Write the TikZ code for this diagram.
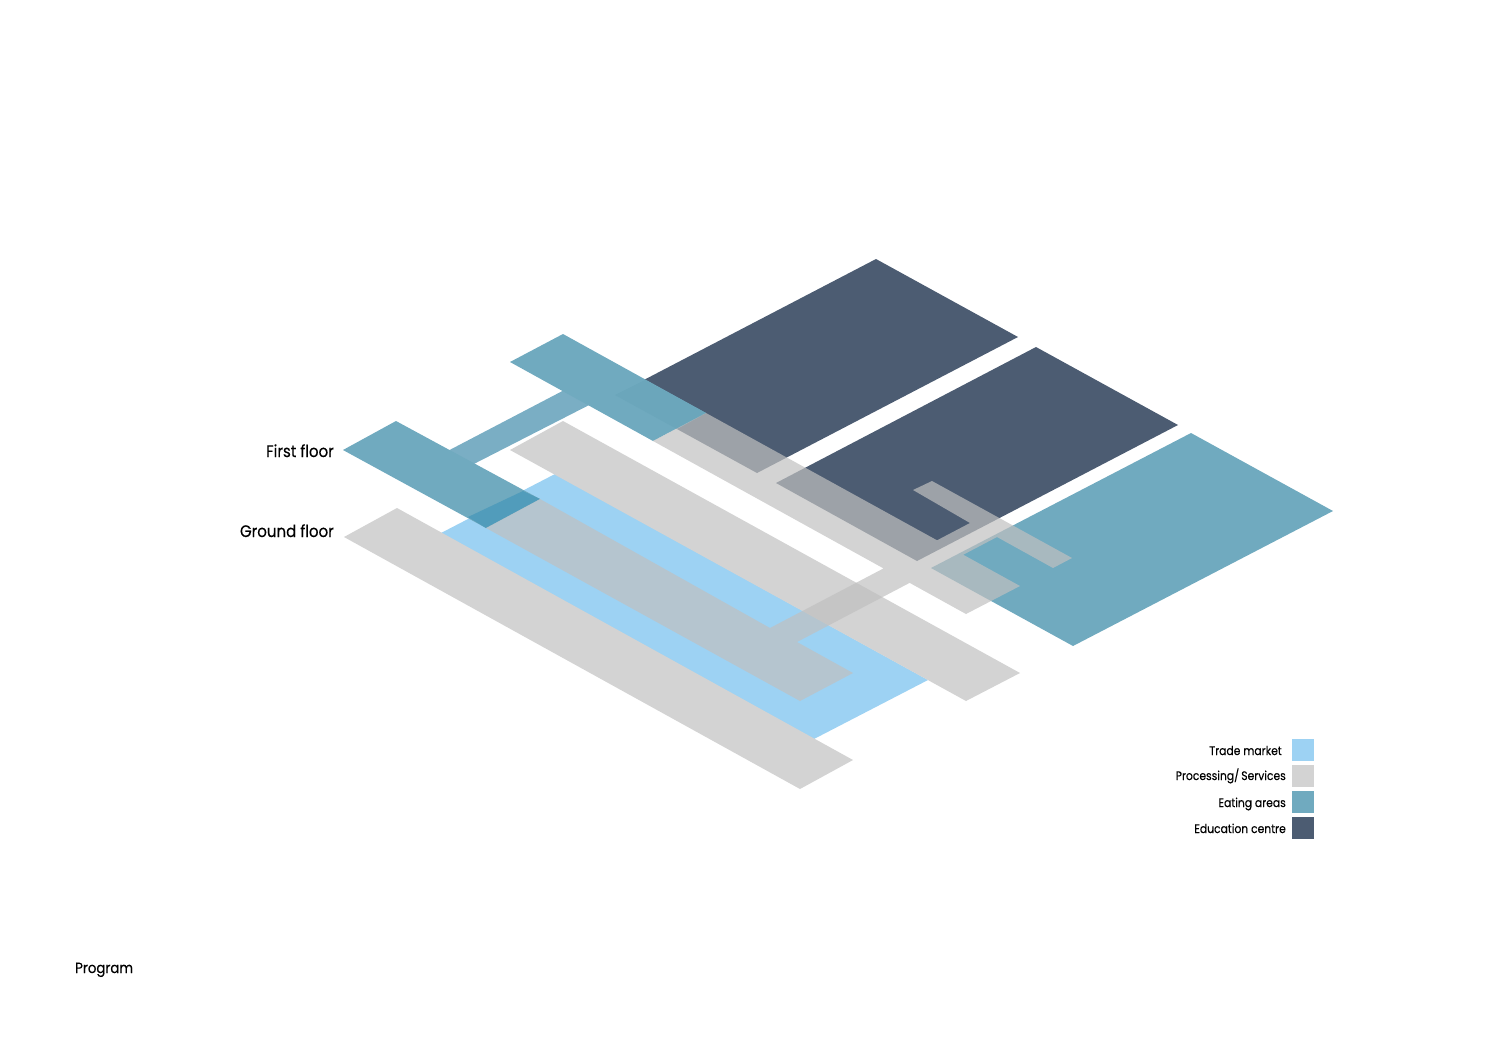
\documentclass[tikz,border=0pt]{standalone}
\usepackage{fontspec}
\setmainfont[FakeStretch=0.9,FakeBold=0.25]{Poppins}
\newfontfamily\legendfont[FakeStretch=0.875,FakeBold=0.25]{Poppins}
\definecolor{navyc}{HTML}{4C5C72}
\definecolor{tealc}{HTML}{70AABF}
\definecolor{linkc}{HTML}{7AAEC4}
\definecolor{bluec}{HTML}{9DD2F3}
\definecolor{greyc}{HTML}{D3D3D3}
\definecolor{veilc}{HTML}{C0C0C0}
\definecolor{overblue}{HTML}{519CBB}
\definecolor{overnavy}{HTML}{6BA6BB}
\tikzset{
  floorlabel/.style={anchor=base east,inner sep=0pt,font=\fontsize{16.7}{18}\selectfont,text=black},
  legendlabel/.style={anchor=base east,inner sep=0pt,font=\legendfont\fontsize{12.3}{14}\selectfont,text=black},
  swatch/.style={minimum width=22pt,minimum height=22pt,inner sep=0pt,anchor=north west}
}
\begin{document}
\begin{tikzpicture}[x=1pt,y=-1pt]
\useasboundingbox (0,0) rectangle (1488,1052);
% education centre
\fill[navyc] (876,259) -- (1018,337) -- (757,473) -- (615,395) -- cycle;
\fill[navyc] (1036,347) -- (1178,425) -- (917,561) -- (776,483) -- cycle;
% large eating area
\fill[tealc] (1191,433) -- (1333,511) -- (1073,646) -- (931,568) -- cycle;
% eating link and upper/lower eating bars
\fill[linkc] (440,455) -- (572,386) -- (597,401) -- (466,468) -- cycle;
\fill[tealc] (563,334) -- (706,413) -- (653,441) -- (510,362) -- cycle;
\fill[overnavy] (615,395) -- (645,380) -- (706,413) -- (677,429) -- cycle;
% trade market
\fill[bluec] (555,474) -- (928,680) -- (814,739) -- (441,533) -- cycle;
% ground floor and first floor processing bars
\fill[greyc] (397,508) -- (853,760) -- (800,789) -- (344,537) -- cycle;
\fill[greyc] (563,421) -- (1020,673) -- (966,701) -- (510,450) -- cycle;
% lower eating bar, over trade market
\fill[tealc] (396,421) -- (540,499) -- (486,528) -- (343,450) -- cycle;
\fill[overblue] (523,491) -- (540,499) -- (486,528) -- (468,517) -- cycle;
% translucent processing/services
\fill[veilc,opacity=0.7]
  (540,499) -- (770,628) -- (970,523) -- (913,490) -- (932,481) -- (1072,558) -- (1053,568) -- (997,537) -- (797,642) -- (853,673) -- (800,701) -- (486,528) -- cycle
  (706,413) -- (1020,586) -- (966,614) -- (653,441) -- cycle;
% labels
\node[floorlabel] (first) at (334,457) {First floor};
\node[floorlabel] (ground) at (334,537) {Ground floor};
\node[anchor=base west,inner sep=0pt,font=\fontsize{14.8}{16}\selectfont] (program) at (75,973) {Program};
% legend
\node[swatch,fill=bluec] (s1) at (1292,739) {};
\node[swatch,fill=greyc] (s2) at (1292,765) {};
\node[swatch,fill=tealc] (s3) at (1292,791) {};
\node[swatch,fill=navyc] (s4) at (1292,817) {};
\node[legendlabel] (l1) at (1282,755) {Trade market};
\node[legendlabel] (l2) at (1286,780) {Processing/\,Services};
\node[legendlabel] (l3) at (1286,807) {Eating areas};
\node[legendlabel] (l4) at (1286,833) {Education centre};
\end{tikzpicture}
\end{document}
